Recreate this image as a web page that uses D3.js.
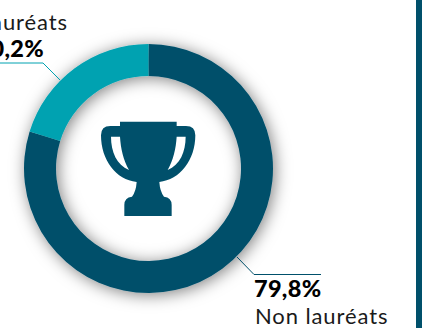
<!DOCTYPE html>
<html>
<head>
<meta charset="utf-8">
<script src="https://cdn.jsdelivr.net/npm/d3@7"></script>
<style>
html, body { margin: 0; padding: 0; background: #fff; overflow: hidden; }
text { font-family: Lato, sans-serif; fill: #1a1a1a; }
.pct { font-weight: 900; font-size: 23.5px; letter-spacing: 0.3px; fill: #000; }
.lab { font-size: 22px; font-weight: 400; letter-spacing: 0.9px; }
</style>
</head>
<body>
<svg id="chart" width="422" height="328"></svg>
<script>
const categories = ["Non lauréats", "Lauréats"];
const shares = [79.8, 20.2];
const shareLabels = ["79,8%", "20,2%"];
const colors = ["#00506b", "#00a2b1"];

const w = 422, h = 328;
const cx = 148.5, cy = 168.5;
const outerR = 124.5, innerR = 92.5;

const svg = d3.select("#chart");

// soft shadow under the ring
const filter = svg.append("defs").append("filter")
    .attr("id", "shadow")
    .attr("x", "-20%").attr("y", "-20%")
    .attr("width", "140%").attr("height", "140%");
filter.append("feDropShadow")
    .attr("dx", 2).attr("dy", 2)
    .attr("stdDeviation", 8)
    .attr("flood-color", "#000")
    .attr("flood-opacity", 0.5);

// sidebar on the right edge
svg.append("rect").attr("x", 416).attr("y", 0).attr("width", 6).attr("height", h).attr("fill", "#00506b");

const pie = d3.pie().sort(null).value(d => d);
const arc = d3.arc().innerRadius(innerR).outerRadius(outerR);

const ring = svg.append("g")
    .attr("transform", `translate(${cx},${cy})`)
    .attr("filter", "url(#shadow)");

ring.selectAll("path")
    .data(pie(shares))
    .enter()
    .append("path")
    .attr("d", arc)
    .attr("fill", (d, i) => colors[i]);

// leader lines
svg.append("polyline")
    .attr("points", "237,257 254,274.5 321,274.5")
    .attr("fill", "none").attr("stroke", colors[0]).attr("stroke-width", 1);
svg.append("polyline")
    .attr("points", "0,63 43,63 60,80")
    .attr("fill", "none").attr("stroke", colors[1]).attr("stroke-width", 1);

// labels
svg.append("text").attr("class", "pct").attr("x", 254).attr("y", 297).text(shareLabels[0]);
svg.append("text").attr("class", "lab").attr("x", 255).attr("y", 324).text(categories[0]);
svg.append("text").attr("class", "lab").attr("x", 68).attr("y", 30).attr("text-anchor", "end").text(categories[1]);
svg.append("text").attr("class", "pct").attr("x", 44).attr("y", 57).attr("text-anchor", "end").text(shareLabels[1]);

// trophy icon
const trophy = "M90,35 H260 V48 H288 Q316,48 316,76 C316,150 270,210 208,216 Q210,245 222,260 Q245,262 245,285 V318 H103 V285 Q103,262 126,260 Q138,245 140,216 C78,210 33,150 33,76 Q33,48 61,48 H90 Z " +
    "M63,80 C63,125 80,165 117,180 C100,150 92,115 90,80 Z " +
    "M287,80 C287,125 270,165 233,180 C250,150 258,115 260,80 Z";
svg.append("path")
    .attr("transform", "translate(90,110) scale(0.3333)")
    .attr("d", trophy)
    .attr("fill", colors[0])
    .attr("fill-rule", "evenodd");
</script>
</body>
</html>
